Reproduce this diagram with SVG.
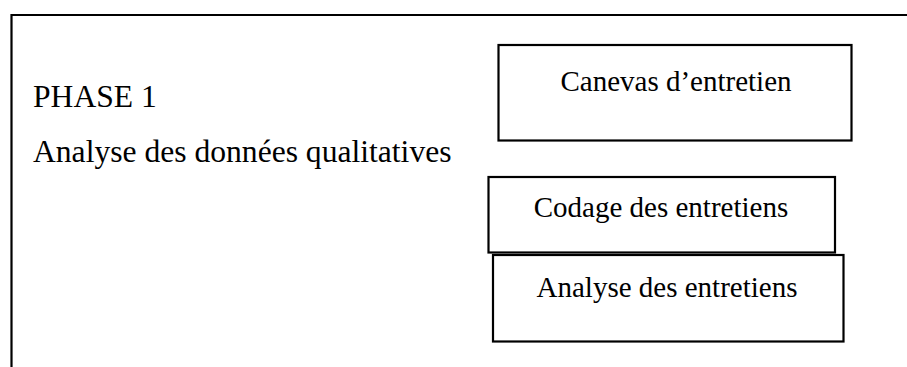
<svg xmlns="http://www.w3.org/2000/svg" width="907" height="367" viewBox="0 0 907 367">
<style>
.box{fill:#fff;stroke:#000;stroke-width:2.2}
.frame{fill:none;stroke:#000;stroke-width:2.2}
text{font-family:"Liberation Serif","Times New Roman",serif;font-size:29px;fill:#000}
.big{font-size:31.6px}
</style>
<rect x="0" y="0" width="907" height="367" fill="#fff"/>
<g id="frame">
<path class="frame" d="M11.5 367 V15 H907"/>
<text class="big" x="33" y="107">PHASE 1</text>
<text class="big" x="33" y="162">Analyse des données qualitatives</text>
</g>
<g id="connectors"></g>
<g id="canevas">
<rect class="box" x="498.5" y="45" width="353" height="95.5"/>
<text x="676" y="91" text-anchor="middle">Canevas d’entretien</text>
</g>
<g id="codage">
<rect class="box" x="488.5" y="177" width="346.5" height="75.5"/>
<text x="661" y="217" text-anchor="middle">Codage des entretiens</text>
</g>
<g id="analyse">
<rect class="box" x="493" y="255" width="350.5" height="86.5"/>
<text x="667" y="296.5" text-anchor="middle">Analyse des entretiens</text>
</g>
</svg>
